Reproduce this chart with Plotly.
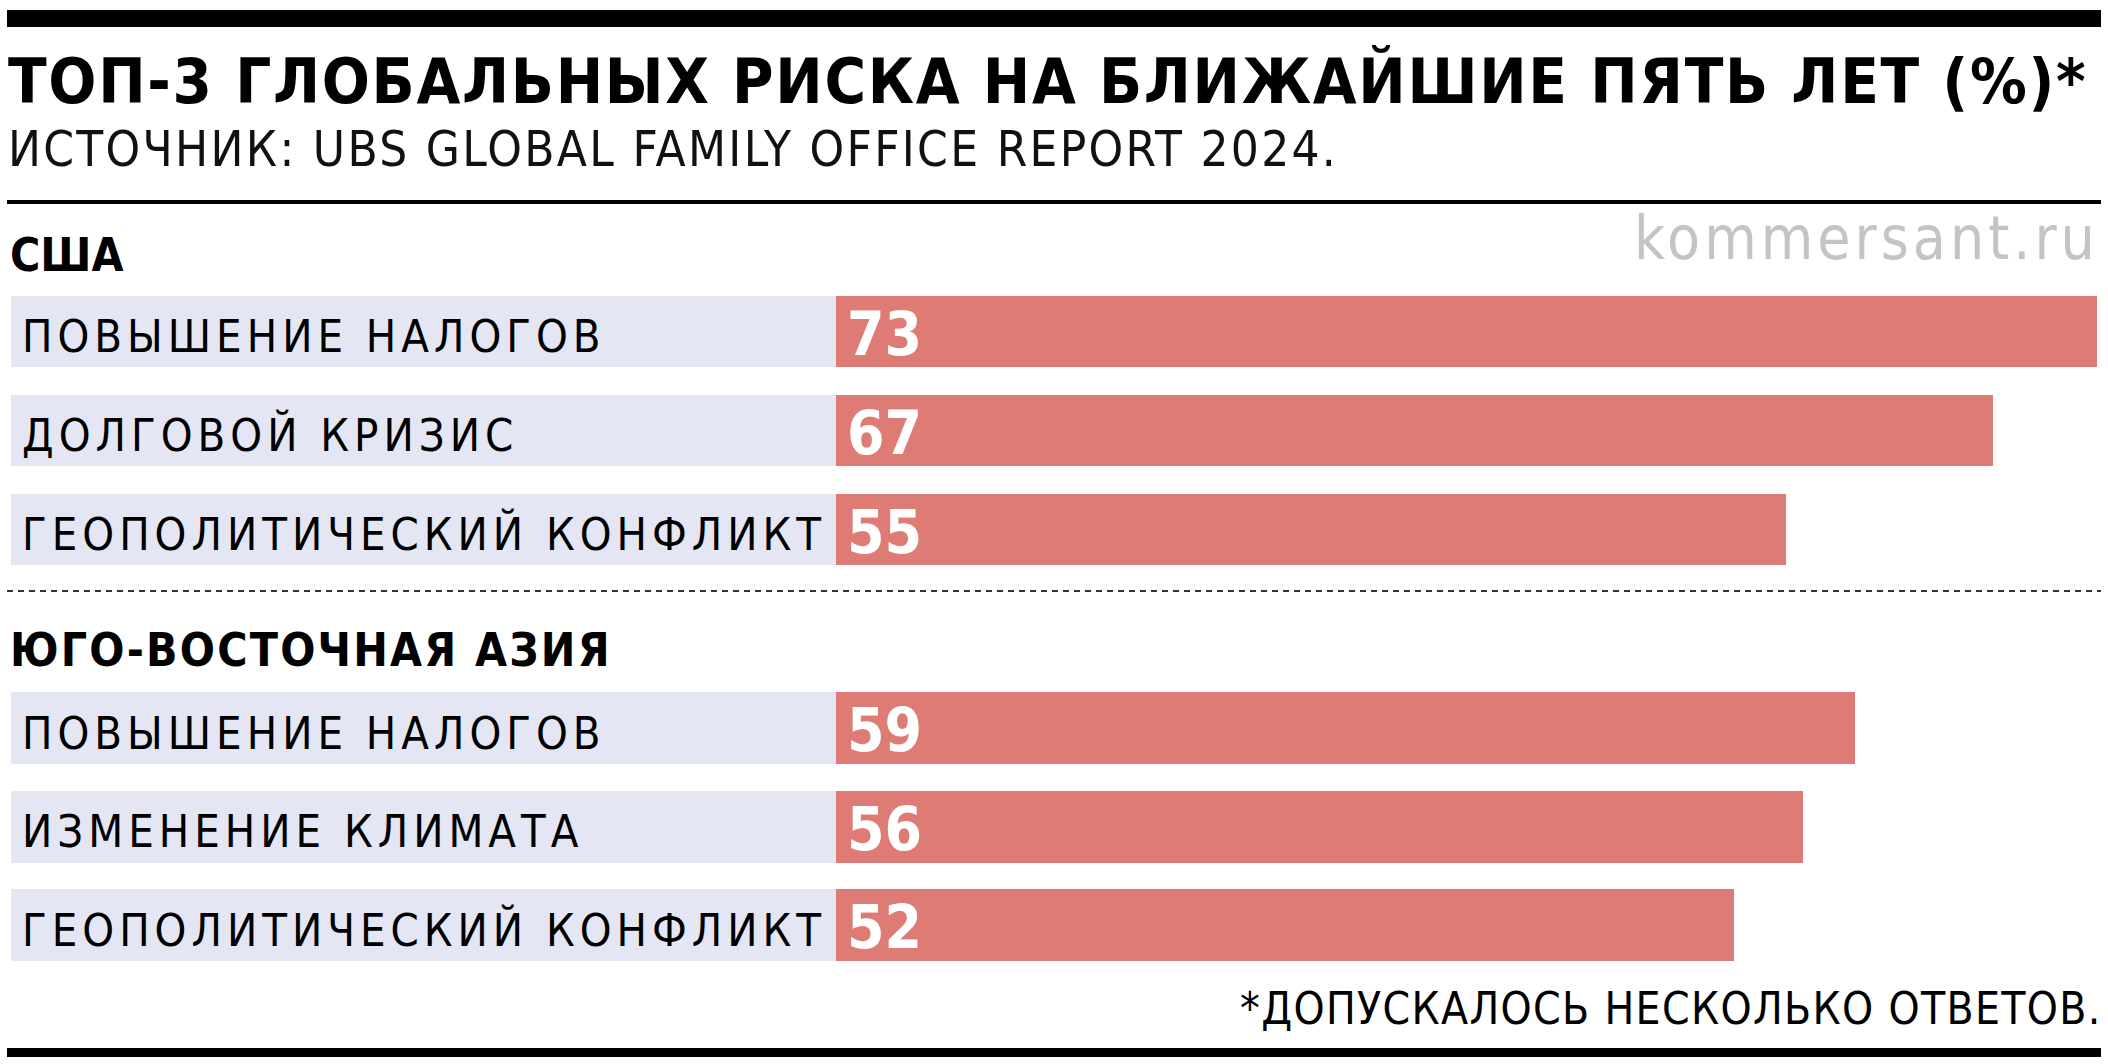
import plotly.graph_objects as go

W, H = 2108, 1064

title = "ТОП-3 ГЛОБАЛЬНЫХ РИСКА НА БЛИЖАЙШИЕ ПЯТЬ ЛЕТ (%)*"
subtitle = "ИСТОЧНИК: UBS GLOBAL FAMILY OFFICE REPORT 2024."
footnote = "*ДОПУСКАЛОСЬ НЕСКОЛЬКО ОТВЕТОВ."
watermark = "kommersant.ru"

usa_title = "США"
usa_risks = ["ПОВЫШЕНИЕ НАЛОГОВ", "ДОЛГОВОЙ КРИЗИС", "ГЕОПОЛИТИЧЕСКИЙ КОНФЛИКТ"]
usa_values = [73, 67, 55]

sea_title = "ЮГО-ВОСТОЧНАЯ АЗИЯ"
sea_risks = ["ПОВЫШЕНИЕ НАЛОГОВ", "ИЗМЕНЕНИЕ КЛИМАТА", "ГЕОПОЛИТИЧЕСКИЙ КОНФЛИКТ"]
sea_values = [59, 56, 52]

RED = "#df7b75"
LAV = "#e4e6f3"
NARROW = "DejaVu Sans Condensed, DejaVu Sans, sans-serif"


def py(p):
    return 1 - p / H


def px(p):
    return p / W


def spaced(s, ls, bold=False):
    inner = f"<span style='letter-spacing:{ls}px'>{s}</span>"
    return f"<b>{inner}</b>" if bold else inner


fig = go.Figure()

sections = [
    (usa_risks, usa_values, "y", (282, 579)),
    (sea_risks, sea_values, "y2", (678.75, 974.25)),
]

for risks, values, yref, (top, bot) in sections:
    # label panel
    fig.add_trace(go.Bar(
        y=risks, x=[1] * len(risks), orientation="h",
        xaxis="x2", yaxis=yref, marker=dict(color=LAV, line=dict(width=0)),
        width=0.727, hoverinfo="skip", showlegend=False,
    ))
    # value bars
    fig.add_trace(go.Bar(
        y=risks, x=values, orientation="h",
        xaxis="x", yaxis=yref, marker=dict(color=RED, line=dict(width=0)),
        width=0.727, showlegend=False,
    ))
    for r, v in zip(risks, values):
        fig.add_annotation(
            x=px(20), xref="paper", xanchor="left",
            y=r, yref=yref, yanchor="middle", yshift=-5,
            text=spaced(r, 5), showarrow=False,
            font=dict(family=NARROW, size=45, color="#000"),
        )
        fig.add_annotation(
            x=0, xref="x", xanchor="left", xshift=9,
            y=r, yref=yref, yanchor="middle", yshift=-2,
            text=f"<b>{v}</b>", showarrow=False,
            font=dict(family=NARROW, size=60, color="#fff"),
        )

all_max = max(usa_values + sea_values)

layout_axes = dict(
    xaxis=dict(domain=[px(836), px(2097)], range=[0, all_max], visible=False,
               fixedrange=True, anchor="y"),
    xaxis2=dict(domain=[px(11), px(836)], range=[0, 1], visible=False,
                fixedrange=True, anchor="y"),
    yaxis=dict(domain=[py(579), py(282)], range=[2.5, -0.5], visible=False,
               type="category", categoryorder="array", categoryarray=usa_risks,
               anchor="x"),
    yaxis2=dict(domain=[py(974.25), py(678.75)], range=[2.5, -0.5], visible=False,
                type="category", categoryorder="array", categoryarray=sea_risks,
                anchor="x"),
)

shapes = [
    dict(type="rect", xref="paper", yref="paper", x0=px(7), x1=px(2101),
         y0=py(27), y1=py(10), fillcolor="#000", line=dict(width=0)),
    dict(type="rect", xref="paper", yref="paper", x0=px(7), x1=px(2101),
         y0=py(204), y1=py(200), fillcolor="#000", line=dict(width=0)),
    dict(type="line", xref="paper", yref="paper", x0=px(7), x1=px(2101),
         y0=py(591), y1=py(591), line=dict(color="#333", width=2, dash="6px,5px")),
    dict(type="rect", xref="paper", yref="paper", x0=px(7), x1=px(2101),
         y0=py(1057), y1=py(1048), fillcolor="#000", line=dict(width=0)),
]

texts = [
    dict(text=spaced(title, 1.7, bold=True), x=px(6), y=py(82), xanchor="left", yanchor="middle",
         font=dict(family=NARROW, size=63, color="#000")),
    dict(text=spaced(subtitle, 2.3), x=px(6), y=py(150), xanchor="left", yanchor="middle",
         font=dict(family=NARROW, size=49, color="#111")),
    dict(text=spaced(usa_title, 0, bold=True), x=px(8), y=py(255), xanchor="left", yanchor="middle",
         font=dict(family=NARROW, size=46, color="#000")),
    dict(text=spaced(watermark, 4), x=px(2101), y=py(238), xanchor="right", yanchor="middle",
         font=dict(family=NARROW, size=60, color="#c4c4c4")),
    dict(text=spaced(sea_title, 2.2, bold=True), x=px(8), y=py(650), xanchor="left", yanchor="middle",
         font=dict(family=NARROW, size=46, color="#000")),
    dict(text=spaced(footnote, 1.35), x=px(2104), y=py(1008), xanchor="right", yanchor="middle",
         font=dict(family=NARROW, size=44, color="#000")),
]
for t in texts:
    fig.add_annotation(xref="paper", yref="paper", showarrow=False, **t)

fig.update_layout(
    width=W, height=H,
    margin=dict(l=0, r=0, t=0, b=0),
    paper_bgcolor="#fff", plot_bgcolor="rgba(0,0,0,0)",
    barmode="overlay", bargap=0,
    shapes=shapes,
    **layout_axes,
)

fig.write_html("out.html", config={"displayModeBar": False})
